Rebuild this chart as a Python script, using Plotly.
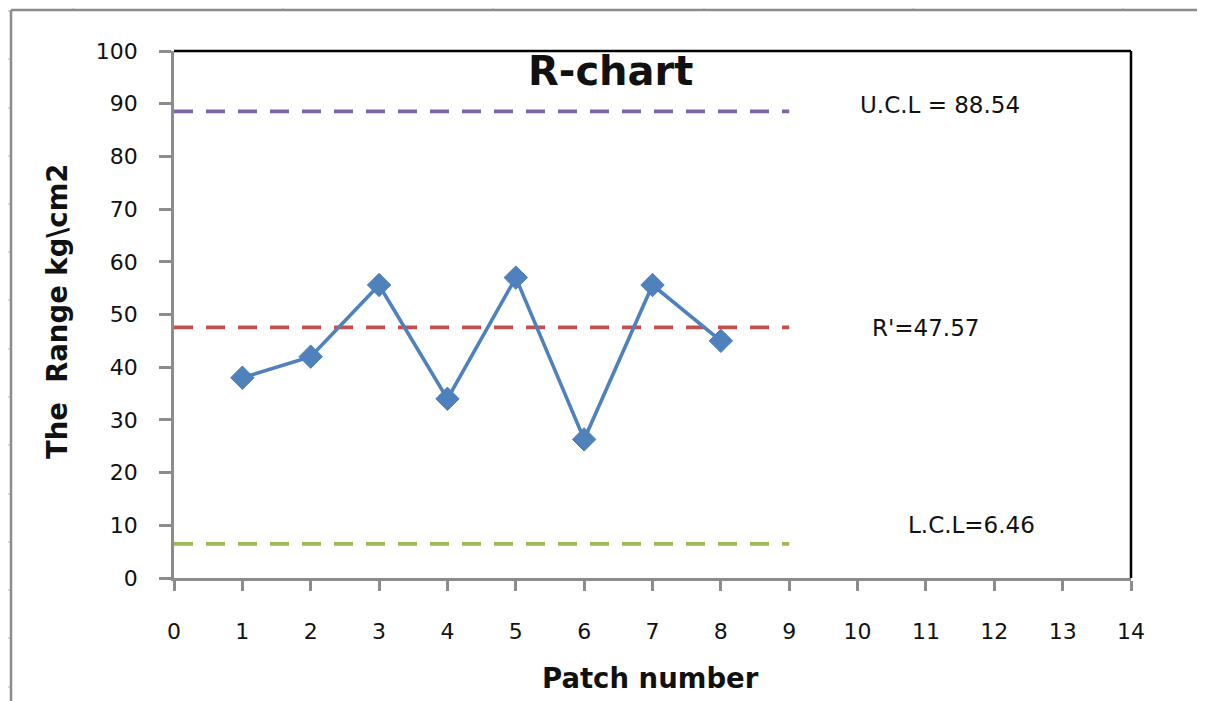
import plotly.graph_objects as go

# ---- data ----
patch = [1, 2, 3, 4, 5, 6, 7, 8]
ranges = [38, 42, 55.6, 34, 57, 26.3, 55.6, 45]
limit_x = [0, 9]
ucl = 88.54
cl = 47.57
lcl = 6.46
x_ticks = list(range(0, 15))
y_ticks = list(range(0, 101, 10))

# page has an 8px body margin; compensate
OFF = 8
W, H = 1205, 701
L, R, T, B = 174, 1131, 51, 578


def px(x):
    return (x - L) / (R - L)


def py(y):
    return (B - y) / (B - T)


FONT = "DejaVu Sans"

fig = go.Figure()

for val, col in [(ucl, "#8064A2"), (cl, "#C0504D"), (lcl, "#9BBB59")]:
    fig.add_trace(go.Scatter(
        x=limit_x, y=[val, val], mode="lines",
        line=dict(color=col, width=3.8, dash="19px,13px"),
        hoverinfo="skip", showlegend=False))

fig.add_trace(go.Scatter(
    x=patch, y=ranges, mode="lines+markers",
    line=dict(color="#4F81BD", width=3.6),
    marker=dict(symbol="diamond", size=18, color="#4F81BD",
                line=dict(color="#4A7EBB", width=1)),
    showlegend=False))

shapes = []
# spreadsheet grid (background, outside chart area)
for gy in [11, 59, 108, 156, 204, 252, 300, 349, 397, 445, 494, 542, 590, 638, 687]:
    shapes.append(dict(type="line", xref="paper", yref="paper",
                       x0=px(OFF), x1=px(11), y0=py(gy), y1=py(gy),
                       line=dict(color="#C8D2E0", width=1.5), layer="below"))
for gx in [73, 283, 493, 704, 913, 1123]:
    shapes.append(dict(type="line", xref="paper", yref="paper",
                       x0=px(gx), x1=px(gx), y0=py(OFF), y1=py(9),
                       line=dict(color="#C8D2E0", width=1.5), layer="below"))
# chart area border
shapes.append(dict(type="line", xref="paper", yref="paper",
                   x0=px(11), x1=px(W), y0=py(10), y1=py(10),
                   line=dict(color="#8C8C8C", width=2.5)))
shapes.append(dict(type="line", xref="paper", yref="paper",
                   x0=px(11), x1=px(11), y0=py(10), y1=py(H),
                   line=dict(color="#8C8C8C", width=2.5)))
# plot area top / right borders
shapes.append(dict(type="line", xref="paper", yref="paper",
                   x0=0, x1=1, y0=1, y1=1, line=dict(color="black", width=2.5)))
shapes.append(dict(type="line", xref="paper", yref="paper",
                   x0=1, x1=1, y0=0, y1=1, line=dict(color="black", width=2.5)))


def ann(text, x, y, size, angle=0):
    return dict(text=text, xref="paper", yref="paper", x=px(x), y=py(y),
                xanchor="center", yanchor="middle", showarrow=False,
                textangle=angle, font=dict(family=FONT, size=size, color="#111"))


annotations = [
    ann("<b>R-chart</b>", 610, 71, 40),
    ann("U.C.L = 88.54", 940, 105, 23),
    ann("R'=47.57", 925, 328, 23),
    ann("L.C.L=6.46", 971, 525, 23),
    ann("<b>Patch number</b>", 650, 678, 27.5),
    ann("<b>The  Range kg\\cm2</b>", 57, 312, 27.5, -90),
]

fig.update_layout(
    width=W - OFF, height=H - OFF,
    margin=dict(l=L - OFF, r=W - R, t=T - OFF, b=H - B),
    paper_bgcolor="white", plot_bgcolor="white",
    shapes=shapes, annotations=annotations,
    xaxis=dict(range=[0, 14], tickvals=x_ticks, showgrid=False, zeroline=False,
               showline=True, linecolor="#8C8C8C", linewidth=2.5,
               ticks="outside", ticklen=10, tickwidth=2.5, tickcolor="#8C8C8C",
               ticklabelstandoff=22,
               tickfont=dict(family=FONT, size=22, color="#111")),
    yaxis=dict(range=[0, 100], tickvals=y_ticks, showgrid=False, zeroline=False,
               showline=True, linecolor="#8C8C8C", linewidth=2.5,
               ticks="outside", ticklen=12, tickwidth=2.5, tickcolor="#8C8C8C",
               ticklabelstandoff=17,
               tickfont=dict(family=FONT, size=22, color="#111")),
)

fig.write_html("out.html")
